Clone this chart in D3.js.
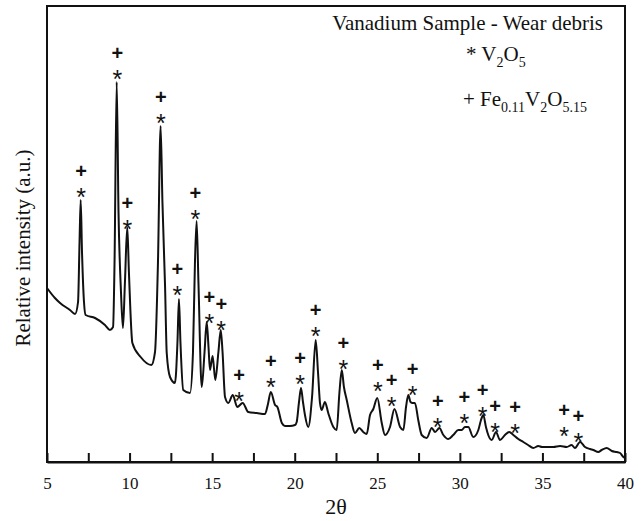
<!DOCTYPE html>
<html>
<head>
<meta charset="utf-8">
<script src="https://cdn.jsdelivr.net/npm/d3@7"></script>
<style>
  body { margin: 0; background: #fff; }
  svg text { font-family: "Liberation Serif", "Times New Roman", serif; fill: #111; }
  .mark { font-family: "Liberation Sans", Arial, sans-serif; }
</style>
</head>
<body>
<div id="chart"></div>
<script>
// diffractogram (2theta, arbitrary intensity)
const twoTheta = [5.00, 5.48, 5.79, 6.39, 6.70, 6.88, 6.97, 7.04, 7.12, 7.24, 7.34, 7.91, 8.51, 8.81, 9.00, 9.09, 9.22, 9.33, 9.48, 9.60,
  9.72, 9.86, 9.96, 10.17, 10.67, 11.32, 11.54, 11.72, 11.88, 11.99, 12.15, 12.25, 12.45, 12.75, 12.90, 12.99, 13.08, 13.25, 13.66, 13.84,
  13.96, 14.06, 14.17, 14.37, 14.54, 14.67, 14.78, 14.87, 15.03, 15.19, 15.38, 15.52, 15.63, 15.78, 15.98, 16.25, 16.52, 16.85, 17.19, 17.70,
  18.20, 18.38, 18.55, 18.81, 18.95, 19.22, 19.41, 19.71, 20.02, 20.12, 20.26, 20.38, 20.50, 20.62, 20.82, 21.05, 21.27, 21.41, 21.53, 21.63,
  21.83, 22.03, 22.34, 22.54, 22.71, 22.85, 22.98, 23.15, 23.45, 23.65, 23.91, 24.15, 24.36, 24.56, 24.76, 25.00, 25.27, 25.47, 25.77, 26.04,
  26.38, 26.58, 26.74, 26.88, 27.01, 27.14, 27.28, 27.48, 27.69, 27.99, 28.30, 28.50, 28.76, 29.00, 29.30, 29.60, 29.91, 30.11, 30.31, 30.51,
  30.81, 31.12, 31.28, 31.42, 31.58, 31.72, 31.93, 32.19, 32.43, 32.73, 32.99, 33.24, 33.54, 33.84, 34.13, 34.45, 34.75, 34.98, 35.26, 35.46,
  35.66, 36.07, 36.47, 36.77, 36.97, 37.28, 37.58, 37.88, 38.08, 38.38, 38.59, 38.89, 39.20, 39.50, 39.70, 39.90, 40.00];
const intensity = [174, 164, 159, 152, 148, 160, 220, 262, 210, 160, 147, 144, 137, 132, 135, 200, 380, 250, 170, 134,
  180, 235, 190, 119, 105, 97, 110, 200, 336, 260, 175, 109, 85, 79, 120, 163, 120, 72, 69, 110,
  200, 241, 180, 75, 110, 140, 115, 92, 106, 82, 110, 132, 110, 65, 59, 67, 55, 59, 50, 49,
  48, 58, 70, 57, 55, 39, 36, 36, 37, 40, 60, 74, 60, 47, 35, 65, 122, 90, 59, 52,
  60, 49, 35, 32, 70, 92, 75, 62, 39, 29, 34, 30, 28, 47, 53, 64, 39, 27, 35, 53,
  35, 32, 55, 67, 60, 59, 59, 42, 27, 24, 34, 30, 34, 27, 23, 27, 32, 32, 35, 35,
  25, 32, 42, 47, 35, 27, 22, 30, 22, 27, 30, 27, 23, 20, 17, 14, 16, 15, 15, 15,
  15, 16, 15, 17, 14, 20, 15, 13, 12, 10, 12, 14, 11, 10, 9, 5, 4];

// indexed reflections (V2O5 "*" and Fe0.11V2O5.15 "+"), with the level of the "*" mark
const peakPos = [7.06, 9.26, 9.86, 11.89, 12.89, 13.98, 14.83, 15.55, 16.63, 18.55, 20.32, 21.27,
  22.94, 25.03, 25.87, 27.14, 28.66, 30.27, 31.38, 32.13, 33.34, 36.31, 37.17];
const peakLevel = [271, 389, 239, 345, 173, 249, 145, 138, 67, 81, 84, 132,
  99, 77, 62, 73, 41, 45, 52, 36, 35, 32, 26];

const xTicks = [5, 10, 15, 20, 25, 30, 35, 40];
const xMinor = [7.5, 12.5, 17.5, 22.5, 27.5, 32.5, 37.5];

const W = 643, H = 521;
const m = { left: 47, right: 625, top: 6, bottom: 462 };

const svg = d3.select("#chart").append("svg").attr("width", W).attr("height", H);

const x = d3.scaleLinear().domain([5, 40]).range([m.left, m.right]);
const y = d3.scaleLinear().domain([0, 456]).range([m.bottom, m.top]);

// frame
svg.append("rect").attr("x", m.left).attr("y", m.top).attr("width", m.right - m.left).attr("height", m.bottom - m.top)
  .attr("fill", "none").attr("stroke", "#111").attr("stroke-width", 2);

// x axis, ticks pointing inwards
const gx = svg.append("g").attr("transform", "translate(0," + m.bottom + ")")
  .call(d3.axisBottom(x).tickValues(xTicks).tickSizeInner(-9).tickSizeOuter(0).tickPadding(15));
gx.select(".domain").attr("stroke", "#111").attr("stroke-width", 2);
gx.selectAll(".tick line").attr("stroke", "#111").attr("stroke-width", 2);
gx.selectAll(".tick text").attr("font-size", 17).attr("font-family", "Liberation Serif").attr("fill", "#111");

svg.append("g").attr("transform", "translate(0," + m.bottom + ")")
  .call(d3.axisBottom(x).tickValues(xMinor).tickSize(-9).tickFormat(""))
  .call(g => g.select(".domain").remove())
  .selectAll(".tick line").attr("stroke", "#111").attr("stroke-width", 2);

// pattern
const line = d3.line().x((d, i) => x(twoTheta[i])).y(d => y(d)).curve(d3.curveMonotoneX);
svg.append("path").datum(intensity).attr("d", line)
  .attr("fill", "none").attr("stroke", "#111").attr("stroke-width", 2).attr("stroke-linejoin", "round");

// peak marks
const marks = svg.append("g").selectAll("g").data(peakPos).enter().append("g");
marks.append("text").attr("class", "mark").attr("text-anchor", "middle").attr("font-size", 25)
  .attr("x", d => x(d)).attr("y", (d, i) => y(peakLevel[i]) + 15).text("*");
marks.append("text").attr("class", "mark").attr("text-anchor", "middle").attr("font-size", 20).attr("font-weight", "bold")
  .attr("x", d => x(d)).attr("y", (d, i) => y(peakLevel[i]) - 20 + 7).text("+");

// title and legend
svg.append("text").attr("x", 603).attr("y", 30).attr("text-anchor", "end").attr("font-size", 21)
  .text("Vanadium Sample - Wear debris");

const l1 = svg.append("text").attr("x", 466).attr("y", 61).attr("font-size", 21);
l1.append("tspan").text("* V");
l1.append("tspan").attr("font-size", 14).attr("dy", 6).text("2");
l1.append("tspan").attr("dy", -6).text("O");
l1.append("tspan").attr("font-size", 14).attr("dy", 6).text("5");

const l2 = svg.append("text").attr("x", 463).attr("y", 106).attr("font-size", 21);
l2.append("tspan").text("+ Fe");
l2.append("tspan").attr("font-size", 14).attr("dy", 6).text("0.11");
l2.append("tspan").attr("dy", -6).text("V");
l2.append("tspan").attr("font-size", 14).attr("dy", 6).text("2");
l2.append("tspan").attr("dy", -6).text("O");
l2.append("tspan").attr("font-size", 14).attr("dy", 6).text("5.15");

// axis titles
svg.append("text").attr("x", (m.left + m.right) / 2).attr("y", 514).attr("text-anchor", "middle").attr("font-size", 22).text("2θ");
svg.append("text").attr("transform", "translate(30," + 248 + ") rotate(-90)").attr("text-anchor", "middle")
  .attr("font-size", 21).text("Relative intensity (a.u.)");
</script>
</body>
</html>
